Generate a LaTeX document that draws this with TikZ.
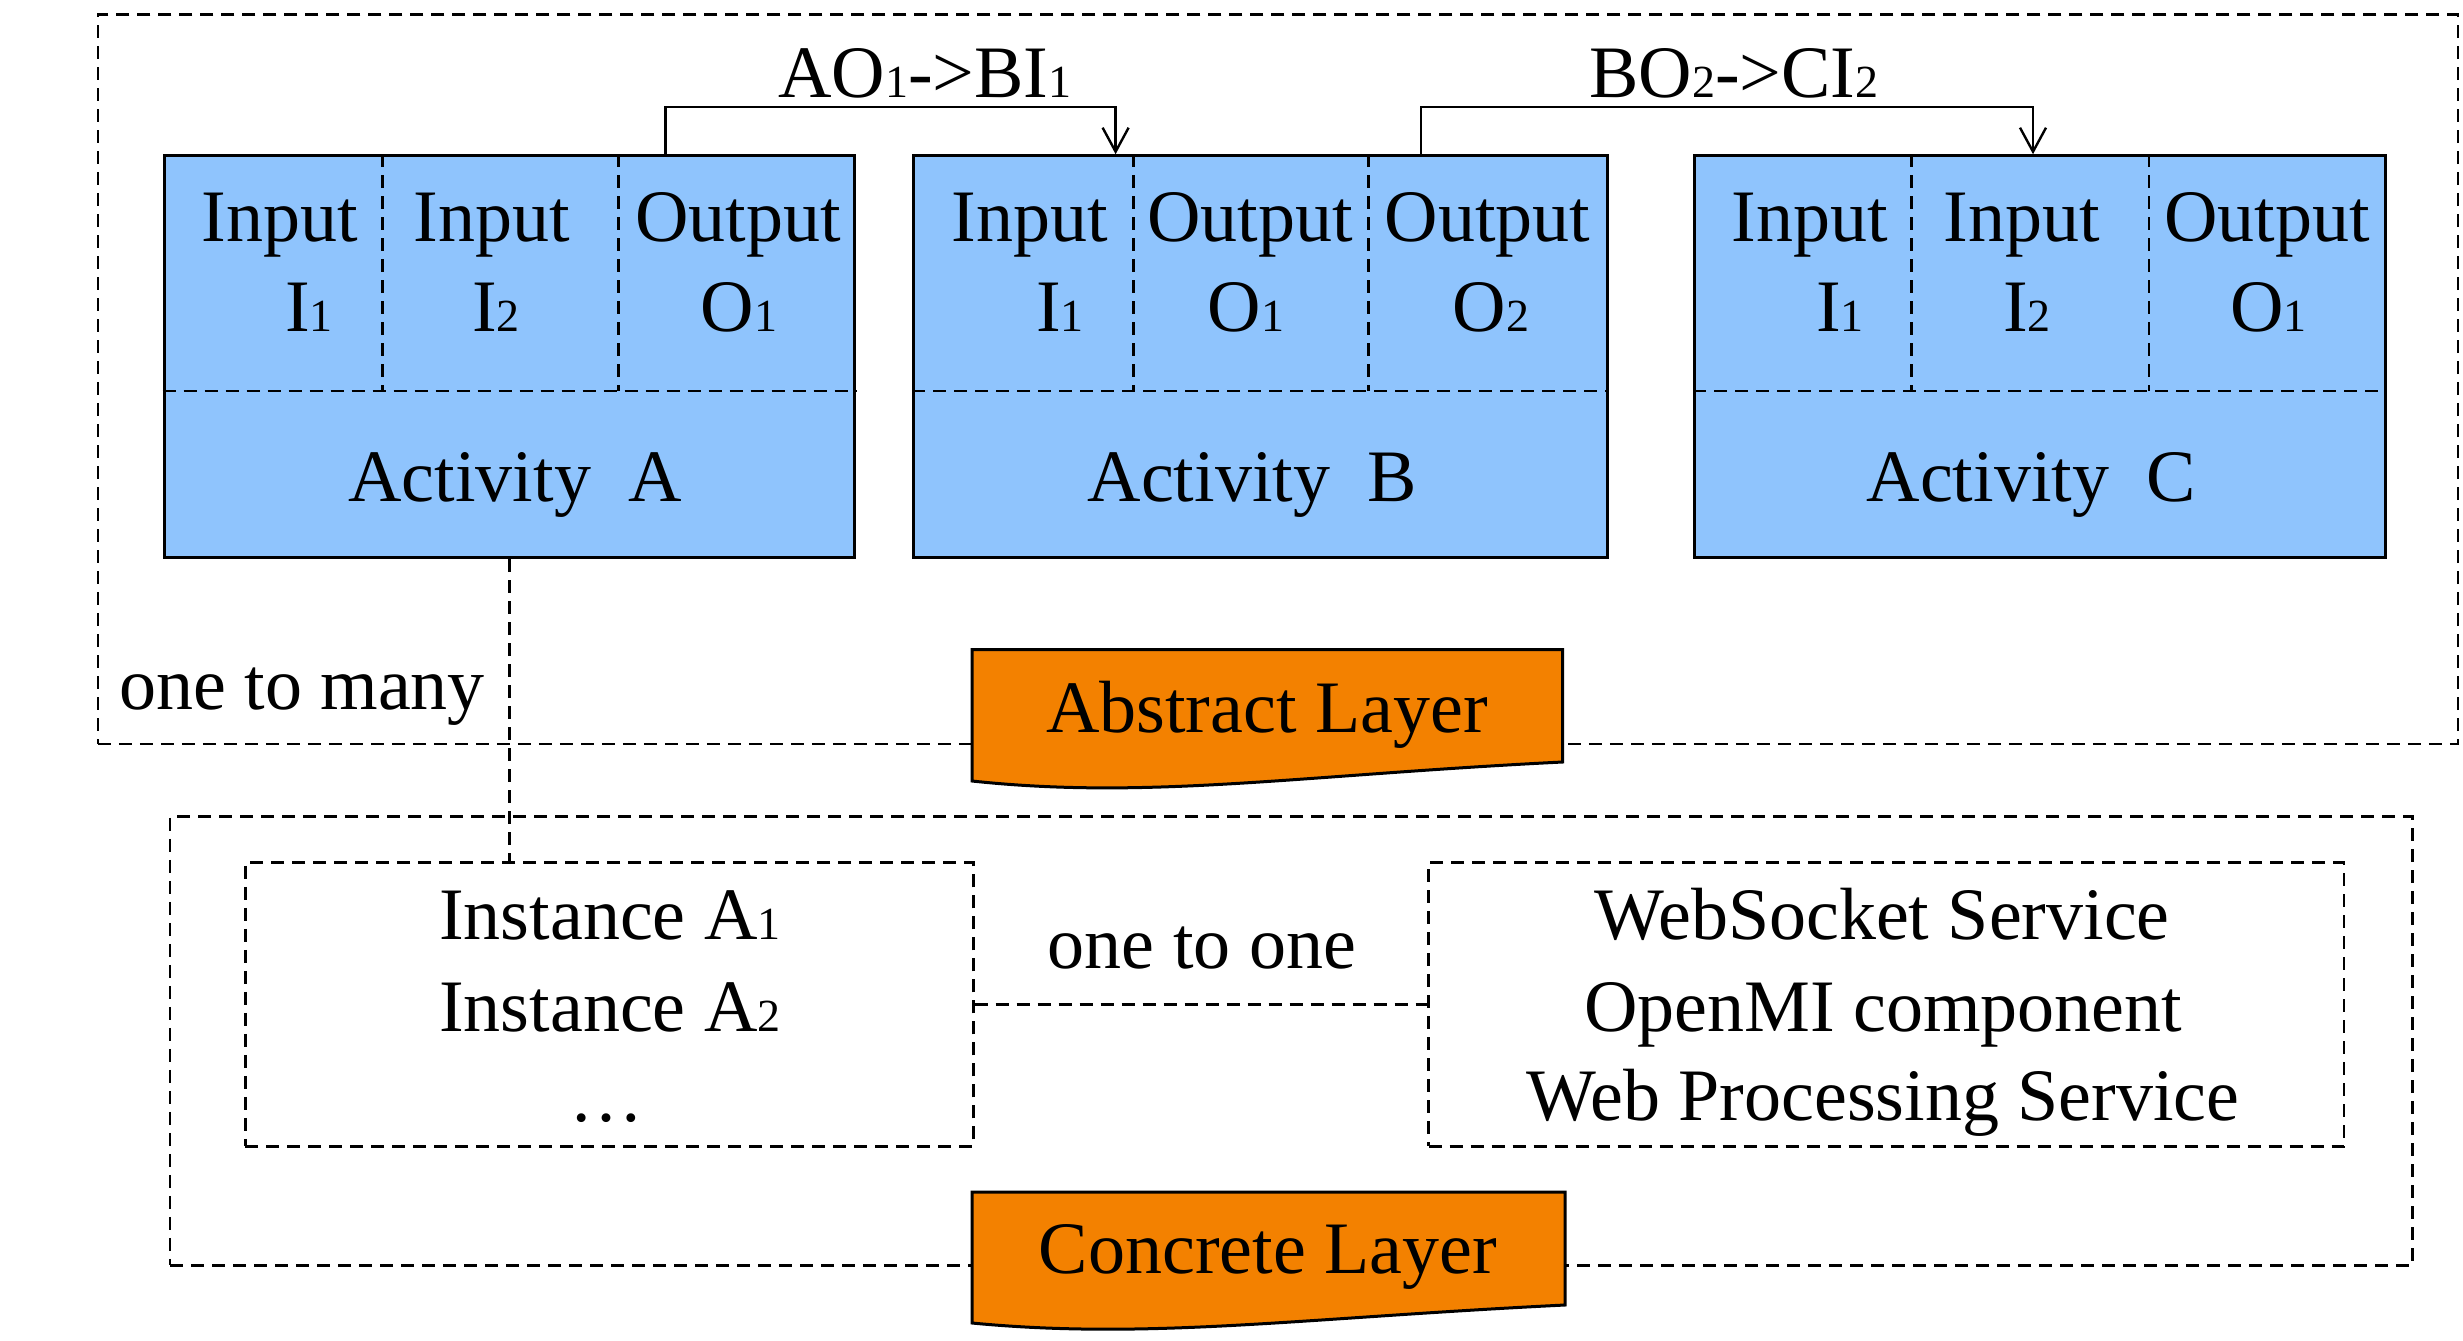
\documentclass[tikz,border=0pt]{standalone}
\usepackage{fontspec}
\setmainfont{Liberation Serif}
\usetikzlibrary{arrows.meta}
\definecolor{actblue}{RGB}{143,196,253}
\definecolor{layorange}{RGB}{243,129,0}
\newcommand{\sbs}[1]{{\fontsize{46}{46}\selectfont #1}}
\begin{document}
\begin{tikzpicture}[x=1pt,y=-1pt,
  txt/.style={inner sep=0pt, anchor=base, font=\fontsize{74}{88}\selectfont},
  actbox/.style={draw, fill=actblue, line width=3pt, inner sep=0pt, anchor=north west, minimum height=401.8pt},
  divider/.style={line width=2.4pt, dash pattern=on 13pt off 8pt},
  layerbox/.style={draw, line width=2.6pt, dash pattern=on 13pt off 8pt, inner sep=0pt, anchor=north west},
  dline/.style={line width=2.6pt, dash pattern=on 13pt off 8pt},
  conn/.style={line width=2.6pt, -{Straight Barb[length=24pt,width=26pt,line width=2.4pt]}},
  banner/.style={draw, fill=layorange, line width=3pt, line join=miter}
]
\useasboundingbox (0,0) rectangle (2463,1341);

% layer frames
\node[layerbox, minimum width=2360.1pt, minimum height=729.3pt] (abs) at (96.6,13.4) {};
\node[layerbox, minimum width=2242.2pt, minimum height=449pt] (con) at (168.8,815) {};

% activity boxes
\node[actbox, minimum width=690.9pt] (A) at (162.5,154.2) {};
\node[actbox, minimum width=693.6pt] (B) at (912.2,154.2) {};
\node[actbox, minimum width=690.6pt] (C) at (1693,154.2) {};

\foreach \b in {A,B,C}{
  \draw[divider] ([yshift=-236.5pt]\b.north west) -- ([yshift=-236.5pt]\b.north east);
}
\draw[divider] ([xshift=219.8pt]A.north west) -- ++(0,236.5);
\draw[divider] ([xshift=456.1pt]A.north west) -- ++(0,236.5);
\draw[divider] ([xshift=221.3pt]B.north west) -- ++(0,236.5);
\draw[divider] ([xshift=456.3pt]B.north west) -- ++(0,236.5);
\draw[divider] ([xshift=218.4pt]C.north west) -- ++(0,236.5);
\draw[divider] ([xshift=455.7pt]C.north west) -- ++(0,236.5);

% activity texts
\node[txt] (a1) at (280,241) {Input};
\node[txt] (a1s) at (309,331) {I\sbs{1}};
\node[txt] (a2) at (492,241) {Input};
\node[txt] (a2s) at (496,331) {I\sbs{2}};
\node[txt] (a3) at (738,241) {Output};
\node[txt] (a3s) at (739,331) {O\sbs{1}};
\node[txt] (an) at (515,501) {Activity\ \ A};

\node[txt] (b1) at (1030,241) {Input};
\node[txt] (b1s) at (1060,331) {I\sbs{1}};
\node[txt] (b2) at (1250,241) {Output};
\node[txt] (b2s) at (1246,331) {O\sbs{1}};
\node[txt] (b3) at (1487.5,241) {Output};
\node[txt] (b3s) at (1491,331) {O\sbs{2}};
\node[txt] (bn) at (1252,501) {Activity\ \ B};

\node[txt] (c1) at (1810,241) {Input};
\node[txt] (c1s) at (1840,331) {I\sbs{1}};
\node[txt] (c2) at (2021.6,241) {Input};
\node[txt] (c2s) at (2027,331) {I\sbs{2}};
\node[txt] (c3) at (2267,241) {Output};
\node[txt] (c3s) at (2268.5,331) {O\sbs{1}};
\node[txt] (cn) at (2031,501) {Activity\ \ C};

% data flow arrows
\draw[conn] ([xshift=503.2pt]A.north west) -- ++(0,-47.4) -| ([xshift=203.4pt]B.north west);
\draw[conn] ([xshift=508.8pt]B.north west) -- ++(0,-47.4) -| ([xshift=340pt]C.north west);
\node[txt] (lab1) at (925,97.6) {AO\sbs{1}->BI\sbs{1}};
\node[txt] (lab2) at (1734,97.6) {BO\sbs{2}->CI\sbs{2}};

% concrete boxes
\node[layerbox, minimum width=728pt, minimum height=283.7pt] (inst) at (244,861.3) {};
\node[layerbox, minimum width=915.4pt, minimum height=283.7pt] (svc) at (1427.4,861.3) {};

\node[txt] (i1) at (610,939) {Instance A\sbs{1}};
\node[txt] (i2) at (610,1031) {Instance A\sbs{2}};
\node[txt] (i3) at (606,1121) {…};

\node[txt] (s1) at (1882,939) {WebSocket Service};
\node[txt] (s2) at (1883,1031) {OpenMI component};
\node[txt] (s3) at (1883,1120) {Web Processing Service};

% relations
\draw[dline] (A.south) -- (A.south |- inst.north);
\draw[dline] (inst.east) -- (svc.west);
\node[txt] (otm) at (302,709.6) {one to many};
\node[txt] (oto) at (1202,968.6) {one to one};

% layer banners
\draw[banner] (972,649.6) -- (1562.6,649.6) -- (1562.6,762) .. controls (1300,775) and (1150,800) .. (972,781) -- cycle;
\node[txt] (abst) at (1267,732) {Abstract Layer};
\draw[banner] (972,1192) -- (1565,1192) -- (1565,1305) .. controls (1300,1318) and (1150,1340) .. (972,1323) -- cycle;
\node[txt] (cont) at (1268,1273) {Concrete Layer};
\end{tikzpicture}
\end{document}
